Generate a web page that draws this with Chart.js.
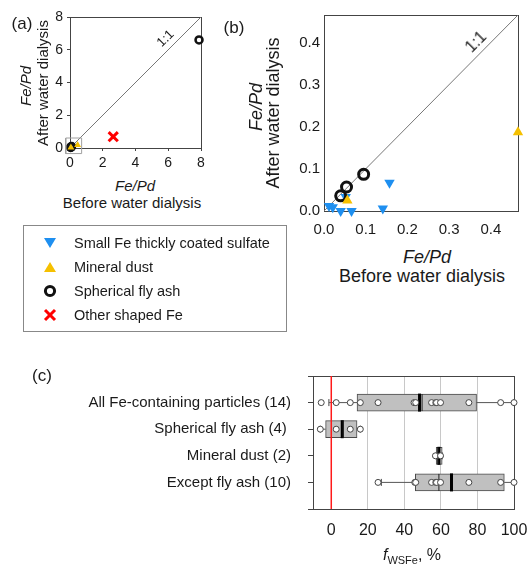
<!DOCTYPE html>
<html><head><meta charset="utf-8">
<script src="https://cdn.jsdelivr.net/npm/chart.js@4/dist/chart.umd.min.js"></script>
<style>
body{margin:0;width:528px;height:567px;position:relative;background:#fff;font-family:"Liberation Sans",Arial,sans-serif;color:#1a1a1a;overflow:hidden}
canvas{position:absolute}
.t{position:absolute;white-space:nowrap;transform:translate(-50%,-50%);line-height:1}
.r{transform:translate(-50%,-50%) rotate(-90deg)}
.d{transform:translate(-50%,-50%) rotate(-45deg)}
.i{font-style:italic}
#legend{position:absolute;left:23px;top:225px;width:264px;height:107px;border:1px solid #888;box-sizing:border-box}
.li{position:absolute;left:0;height:20px;font-size:14.5px;line-height:20px}
.li svg{position:absolute;left:19px;top:3px}
.li span{position:absolute;left:50px;top:0;white-space:nowrap}
sub{font-size:11px;vertical-align:-4px;font-style:normal}
</style></head><body>
<canvas id="ca" width="220" height="170" style="left:0;top:0"></canvas>
<canvas id="cb" width="308" height="245" style="left:220px;top:0"></canvas>
<canvas id="cc" width="528" height="207" style="left:0;top:360px"></canvas>

<div class="t" style="left:22px;top:23px;font-size:17px">(a)</div>
<div class="t r i" style="left:25px;top:86px;font-size:15px">Fe/Pd</div>
<div class="t r" style="left:42px;top:83px;font-size:15px">After water dialysis</div>
<div class="t i" style="left:135px;top:185px;font-size:15px">Fe/Pd</div>
<div class="t" style="left:132px;top:202px;font-size:15px">Before water dialysis</div>
<div class="t d" style="left:165px;top:38px;font-size:13px">1:1</div>

<div class="t" style="left:234px;top:27px;font-size:17px">(b)</div>
<div class="t r i" style="left:256px;top:107px;font-size:18px">Fe/Pd</div>
<div class="t r" style="left:273px;top:113px;font-size:18px">After water dialysis</div>
<div class="t i" style="left:427px;top:257px;font-size:18px">Fe/Pd</div>
<div class="t" style="left:422px;top:276px;font-size:18px">Before water dialysis</div>
<div class="t d" style="left:476px;top:42px;font-size:16px">1:1</div>

<div id="legend">
 <div class="li" style="top:7px"><svg width="14" height="14"><polygon points="1,2 13,2 7,12" fill="#1e8ff0"/></svg><span>Small Fe thickly coated sulfate</span></div>
 <div class="li" style="top:31px"><svg width="14" height="14"><polygon points="1,12 13,12 7,2" fill="#f5c000"/></svg><span>Mineral dust</span></div>
 <div class="li" style="top:55px"><svg width="14" height="14"><circle cx="7" cy="7" r="4.6" fill="none" stroke="#111" stroke-width="3"/></svg><span>Spherical fly ash</span></div>
 <div class="li" style="top:79px"><svg width="14" height="14"><line x1="2" y1="2" x2="12" y2="12" stroke="#f00" stroke-width="3"/><line x1="12" y1="2" x2="2" y2="12" stroke="#f00" stroke-width="3"/></svg><span>Other shaped Fe</span></div>
</div>

<div class="t" style="left:42px;top:375px;font-size:17px">(c)</div>
<div class="t" style="left:412px;top:556px;font-size:16px"><i>f</i><sub>WSFe</sub>, %</div>

<script>
// ---- Panels (a) and (b): Fe/Pd before vs after water dialysis ----
const sulfateX = [0.012, 0.021, 0.040, 0.052, 0.066, 0.141, 0.157];
const sulfateY = [0.012, 0.009, 0.000, 0.033, 0.000, 0.006, 0.067];
const dustX = [0.056, 0.465];
const dustY = [0.025, 0.187];
const flyAshX = [0.040, 0.054, 0.095, 7.88];
const flyAshY = [0.036, 0.057, 0.087, 6.60];
const otherX = [2.64];
const otherY = [0.69];
const zoomBoxX = [-0.26, 0.71, 0.71, -0.26, -0.26];
const zoomBoxY = [-0.34, -0.34, 0.61, 0.61, -0.34];
const ticksA = [0, 2, 4, 6, 8];
const ticksB = [0, 0.1, 0.2, 0.3, 0.4];

// ---- Panel (c): f_WSFe box plots ----
const rowLabels = ['All Fe-containing particles (14)', 'Spherical fly ash (4) ', 'Mineral dust (2)', 'Except fly ash (10)'];
const rowPoints = [
  [-5.5, 2.7, 10.4, 15.9, 25.6, 45.3, 46.2, 54.9, 57.2, 57.6, 59.8, 75.3, 92.7, 100],
  [-6.0, 2.7, 10.4, 15.9],
  [57.0, 59.8],
  [25.6, 45.7, 46.2, 54.9, 57.2, 57.6, 59.8, 75.3, 92.7, 100]
];
const whiskLo = [-1.3, -6.0, 57.4, 27.4];
const boxQ1 = [14.1, -3.1, 57.4, 46.0];
const boxQ3 = [79.5, 14.1, 60.7, 94.7];
const whiskHi = [100, 15.9, 60.7, 100];
const medians = [49.7, 6.5, 58.4, 58.9];
const means = [48.3, 6.0, 58.9, 65.8];
const ticksC = [0, 20, 40, 60, 80, 100];

const FONT = '"Liberation Sans", Arial, sans-serif';
const INK = '#1a1a1a', AX = '#444';
const pts = (xs, ys) => xs.map((x, i) => ({x, y: ys[i]}));
const noPad = s => { s.paddingLeft = 0; s.paddingRight = 0; s.paddingTop = 0; s.paddingBottom = 0; };
const frame = {id: 'frame', beforeDatasetsDraw(c) {
  const a = c.chartArea, ctx = c.ctx; ctx.save(); ctx.strokeStyle = AX; ctx.lineWidth = 1;
  ctx.strokeRect(Math.round(a.left) + 0.5, Math.round(a.top) + 0.5, Math.round(a.right - a.left), Math.round(a.bottom - a.top));
  ctx.restore();
}};

function scatterPanel(id, max, ticks, cfg) {
  const ds = [
    {data: [{x: 0, y: 0}, {x: max, y: max}], showLine: true, borderColor: '#777', borderWidth: 1, pointRadius: 0, order: 10},
    {data: pts(sulfateX, sulfateY), pointStyle: 'triangle', rotation: 180, pointRadius: cfg.tri, backgroundColor: '#1e8ff0', borderColor: '#1e8ff0', borderWidth: 0, order: 5, clip: 8},
    {data: pts(flyAshX, flyAshY), pointStyle: 'circle', pointRadius: cfg.circ, backgroundColor: 'rgba(0,0,0,0)', borderColor: '#111', borderWidth: cfg.cw, order: 4, clip: 8},
    {data: pts(dustX, dustY), pointStyle: 'triangle', pointRadius: cfg.tri, backgroundColor: '#f5c000', borderColor: '#f5c000', borderWidth: 0, order: 3, clip: 8},
    {data: pts(otherX, otherY), pointStyle: 'crossRot', pointRadius: cfg.x, backgroundColor: '#f00', borderColor: '#f00', borderWidth: 3, order: 2, clip: 8}
  ];
  if (cfg.box) ds.push({data: pts(zoomBoxX, zoomBoxY), showLine: true, borderColor: '#a0a0a0', borderWidth: 1, pointRadius: 0, clip: false, order: 1});
  const axis = (h, w) => ({
    type: 'linear', min: 0, max: max,
    afterBuildTicks: s => { s.ticks = ticks.map(v => ({value: v})); },
    afterFit: s => { if (h) s.height = h; if (w) s.width = w; noPad(s); },
    grid: {drawOnChartArea: false, drawTicks: cfg.tl > 0, tickLength: cfg.tl, color: AX},
    border: {color: AX, width: 1},
    ticks: {font: {family: FONT, size: cfg.fs}, color: INK, maxRotation: 0, autoSkip: false,
      callback: v => cfg.dec ? v.toFixed(1) : String(v)}
  });
  const xa = axis(cfg.xh, 0); xa.ticks.padding = cfg.xpad;
  const ya = axis(0, cfg.yw); ya.ticks.padding = cfg.ypad;
  new Chart(document.getElementById(id), {
    type: 'scatter', data: {datasets: ds},
    options: {responsive: false, animation: false, events: [],
      layout: {padding: cfg.pad},
      plugins: {legend: {display: false}, tooltip: {enabled: false}},
      scales: {x: xa, y: ya}},
    plugins: [frame]
  });
}

scatterPanel('ca', 8, ticksA, {tri: 4, circ: 3.5, cw: 2.5, x: 6.5, box: true, fs: 14, tl: 3, xpad: 4, ypad: 4,
  xh: 22, yw: 70, pad: {left: 0, right: 19, top: 17, bottom: 0}});
scatterPanel('cb', 0.465, ticksB, {tri: 6, circ: 5, cw: 3, x: 7, box: false, fs: 15, tl: 0, dec: true, xpad: 10, ypad: 4,
  xh: 34, yw: 104, pad: {left: 0, right: 7, top: 15, bottom: 0}});

// ---- Panel (c) ----
const dsC = [];
dsC.push({type: 'line', data: [{x: 0, y: 0}, {x: 0, y: 5}], borderColor: '#ff1a1a', borderWidth: 1.5, pointRadius: 0, order: 3, clip: false});
rowLabels.forEach((_, i) => {
  dsC.push({type: 'line', data: [{x: whiskLo[i], y: i + 1}, {x: boxQ1[i], y: i + 1}], borderColor: '#555', borderWidth: 1, pointRadius: 0, order: 6});
  dsC.push({type: 'line', data: [{x: boxQ3[i], y: i + 1}, {x: whiskHi[i], y: i + 1}], borderColor: '#555', borderWidth: 1, pointRadius: 0, order: 6});
});
dsC.push({type: 'scatter', data: [...whiskLo.map((v, i) => ({x: v, y: i + 1})), ...whiskHi.map((v, i) => ({x: v, y: i + 1}))],
  pointStyle: 'line', rotation: 90, pointRadius: 3.5, borderColor: '#444', borderWidth: 1, order: 6});
dsC.push({type: 'bar', indexAxis: 'y', data: boxQ1.map((v, i) => ({x: [v, boxQ3[i]], y: i + 1})),
  backgroundColor: '#c0c0c0', borderColor: '#4a4a4a', borderWidth: 1, borderSkipped: false, barThickness: 17, order: 5});
dsC.push({type: 'scatter', data: medians.map((v, i) => ({x: v, y: i + 1})), pointStyle: 'line', rotation: 90, pointRadius: 8.5, borderColor: '#222', borderWidth: 1, order: 2});
dsC.push({type: 'scatter', data: means.map((v, i) => ({x: v, y: i + 1})), pointStyle: 'line', rotation: 90, pointRadius: 9, borderColor: '#000', borderWidth: 3, order: 2});
dsC.push({type: 'scatter', data: rowPoints.flatMap((row, i) => row.map(v => ({x: v, y: i + 1}))),
  pointStyle: 'circle', pointRadius: 3, backgroundColor: '#fff', borderColor: '#444', borderWidth: 1, order: 1, clip: 8});

new Chart(document.getElementById('cc'), {
  type: 'scatter', data: {datasets: dsC},
  options: {responsive: false, animation: false, events: [],
    layout: {padding: {left: 0, right: 14, top: 16, bottom: 0}},
    plugins: {legend: {display: false}, tooltip: {enabled: false}},
    scales: {
      x: {type: 'linear', min: -10, max: 100, offset: false, beginAtZero: false,
        afterBuildTicks: s => { s.ticks = ticksC.map(v => ({value: v})); },
        afterFit: s => { s.height = 58; noPad(s); },
        grid: {drawOnChartArea: true, drawTicks: false, color: '#c8c8c8', lineWidth: 1, offset: false},
        border: {color: AX, width: 1},
        ticks: {font: {family: FONT, size: 16}, color: INK, padding: 12, maxRotation: 0, autoSkip: false}},
      y: {type: 'linear', min: 0, max: 5, reverse: true, offset: false,
        afterBuildTicks: s => { s.ticks = [0, 1, 2, 3, 4, 5].map(v => ({value: v})); },
        afterFit: s => { s.width = 313; noPad(s); },
        grid: {drawOnChartArea: false, drawTicks: true, tickLength: 5, color: AX, offset: false},
        border: {color: AX, width: 1},
        ticks: {font: {family: FONT, size: 15}, color: INK, padding: 17, autoSkip: false,
          callback: v => rowLabels[v - 1] || ''}}
    }},
  plugins: [frame]
});
</script>
</body></html>
